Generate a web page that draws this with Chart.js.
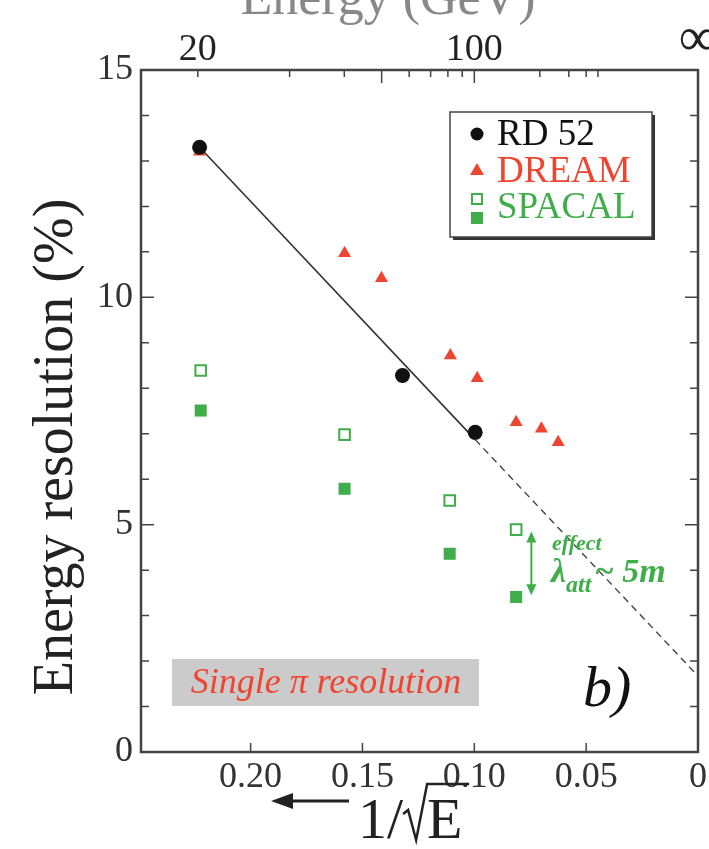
<!DOCTYPE html>
<html>
<head>
<meta charset="utf-8">
<script src="https://cdn.jsdelivr.net/npm/chart.js@4.4.0/dist/chart.umd.min.js"></script>
<style>
  html, body { margin: 0; padding: 0; background: #fff; }
  #wrap { width: 709px; height: 849px; }
</style>
</head>
<body>
<div id="wrap"><canvas id="c" width="709" height="849"></canvas></div>
<script>
// valeurs (x = 1/sqrt(E), y = résolution en %)
const rd52X = [0.2228, 0.1321, 0.0996];
const rd52Y = [13.3, 8.28, 7.03];
const dreamX = [0.2228, 0.158, 0.1415, 0.1107, 0.0987, 0.0813, 0.0700, 0.0625];
const dreamY = [13.2, 10.97, 10.42, 8.72, 8.22, 7.25, 7.11, 6.81];
const spacalX = [0.2223, 0.158, 0.111, 0.0813];
const spacalOpenY = [8.39, 6.98, 5.53, 4.89];
const spacalFullY = [7.51, 5.79, 4.36, 3.41];
const fitSolidX = [0.2228, 0.0996];
const fitSolidY = [13.3, 6.87];
const fitDashX = [0.0996, 0];
const fitDashY = [6.87, 1.67];

// graduations
const bottomTicks = [0.20, 0.15, 0.10, 0.05, 0];
const leftTicks = [0, 5, 10, 15];
const energyTicks = [20, 30, 40, 50, 60, 70, 80, 90, 100, 200, 300, 400, 500, Infinity];
const energyTickLabels = ['20', '', '', '', '', '', '', '', '100', '', '', '', '', '\u221E'];
const energyMajor = [50, 100];

const RED = '#ee4430';
const GREEN = '#3fae4a';
const AXIS = '#444';
const SERIF = "'Liberation Serif', 'Times New Roman', serif";

const pts = (xs, ys) => xs.map((x, i) => ({ x: x, y: ys[i] }));

// pas de marge pour les étiquettes qui débordent
const noOverhang = s => { s.paddingLeft = 0; s.paddingRight = 0; };

// cadre + graduations vers l'intérieur
const framePlugin = {
  id: 'frame',
  afterDatasetsDraw(chart) {
    const { ctx, chartArea: a, scales } = chart;
    ctx.save();
    ctx.strokeStyle = AXIS;
    ctx.lineWidth = 1.5;
    ctx.beginPath();
    for (let v = 0; v <= 15; v++) {
      const py = scales.y.getPixelForValue(v);
      const len = v % 5 === 0 ? 13 : 8;
      ctx.moveTo(a.left, py); ctx.lineTo(a.left + len, py);
      ctx.moveTo(a.right, py); ctx.lineTo(a.right - len, py);
    }
    bottomTicks.forEach(v => {
      const px = scales.x.getPixelForValue(v);
      ctx.moveTo(px, a.bottom); ctx.lineTo(px, a.bottom - 9);
    });
    energyTicks.forEach(e => {
      const px = scales.x2.getPixelForValue(1 / Math.sqrt(e));
      const len = energyMajor.includes(e) ? 13 : 7;
      ctx.moveTo(px, a.top); ctx.lineTo(px, a.top + len);
    });
    ctx.stroke();
    ctx.lineWidth = 2.5;
    ctx.strokeRect(a.left, a.top, a.right - a.left, a.bottom - a.top);
    ctx.restore();
  }
};

// légende, titres et annotations
const notesPlugin = {
  id: 'notes',
  afterDraw(chart) {
    const { ctx } = chart;
    ctx.save();

    // titres des axes
    ctx.fillStyle = '#888';
    ctx.font = '52px ' + SERIF;
    ctx.textAlign = 'center';
    ctx.textBaseline = 'alphabetic';
    ctx.fillText('Energy (GeV)', 388, 14);

    ctx.fillStyle = '#222';
    ctx.font = '56px ' + SERIF;
    ctx.save();
    ctx.translate(72, 447);
    ctx.rotate(-Math.PI / 2);
    ctx.fillText('Energy resolution (%)', 0, 0);
    ctx.restore();

    // ← 1/√E
    ctx.strokeStyle = '#222';
    ctx.lineWidth = 3;
    ctx.beginPath();
    ctx.moveTo(349, 801); ctx.lineTo(285, 801);
    ctx.stroke();
    ctx.beginPath();
    ctx.moveTo(271, 801); ctx.lineTo(293, 793); ctx.lineTo(293, 809); ctx.closePath();
    ctx.fill();
    ctx.font = '58px ' + SERIF;
    ctx.textAlign = 'left';
    ctx.fillText('1/', 358, 838);
    const w1 = ctx.measureText('1/').width;
    const sx = 358 + w1;
    ctx.lineWidth = 2.5;
    ctx.beginPath();
    ctx.moveTo(sx, 814); ctx.lineTo(sx + 5, 810); ctx.lineTo(sx + 13, 840);
    ctx.lineTo(sx + 24, 784); ctx.lineTo(sx + 66, 784);
    ctx.stroke();
    ctx.fillText('E', sx + 24, 838);

    // légende
    const bx = 450, by = 112, bw = 202, bh = 125;
    ctx.fillStyle = '#333';
    ctx.fillRect(bx + 3, by + 3, bw, bh);
    ctx.fillStyle = '#fff';
    ctx.fillRect(bx, by, bw, bh);
    ctx.strokeStyle = '#444';
    ctx.lineWidth = 1.5;
    ctx.strokeRect(bx, by, bw, bh);

    ctx.font = '37px ' + SERIF;
    ctx.fillStyle = '#111';
    ctx.beginPath(); ctx.arc(477, 134, 6.5, 0, Math.PI * 2); ctx.fill();
    ctx.fillText('RD 52', 497, 145);

    ctx.fillStyle = RED;
    ctx.beginPath();
    ctx.moveTo(477, 163); ctx.lineTo(484, 175); ctx.lineTo(470, 175); ctx.closePath();
    ctx.fill();
    ctx.fillText('DREAM', 497, 182);

    ctx.fillStyle = GREEN;
    ctx.strokeStyle = GREEN;
    ctx.lineWidth = 2;
    ctx.strokeRect(472, 194, 10, 10);
    ctx.fillRect(471, 212, 12, 12);
    ctx.fillText('SPACAL', 497, 218);

    // Single π resolution
    ctx.fillStyle = '#cbcbcb';
    ctx.fillRect(172, 659, 307, 47);
    ctx.fillStyle = RED;
    ctx.font = 'italic 36px ' + SERIF;
    ctx.textAlign = 'center';
    ctx.fillText('Single \u03C0 resolution', 326, 693);

    // b)
    ctx.fillStyle = '#111';
    ctx.font = 'italic 58px ' + SERIF;
    ctx.textAlign = 'left';
    ctx.fillText('b)', 583, 706);

    // flèche verte λatt
    const ax = chart.scales.x.getPixelForValue(0.0745);
    const yTop = chart.scales.y.getPixelForValue(4.85);
    const yBot = chart.scales.y.getPixelForValue(3.45);
    ctx.strokeStyle = GREEN;
    ctx.fillStyle = GREEN;
    ctx.lineWidth = 2;
    ctx.beginPath(); ctx.moveTo(ax, yTop + 8); ctx.lineTo(ax, yBot - 8); ctx.stroke();
    ctx.beginPath();
    ctx.moveTo(ax, yTop); ctx.lineTo(ax - 5, yTop + 11); ctx.lineTo(ax + 5, yTop + 11); ctx.closePath();
    ctx.moveTo(ax, yBot); ctx.lineTo(ax - 5, yBot - 11); ctx.lineTo(ax + 5, yBot - 11); ctx.closePath();
    ctx.fill();

    ctx.font = 'italic bold 22px ' + SERIF;
    ctx.fillText('effect', 552, 550);
    ctx.font = 'italic bold 34px ' + SERIF;
    ctx.fillText('\u03BB', 551, 582);
    let tx = 551 + ctx.measureText('\u03BB').width;
    ctx.font = 'italic bold 24px ' + SERIF;
    ctx.fillText('att', tx, 592);
    tx += ctx.measureText('att').width + 3;
    ctx.font = 'italic bold 34px ' + SERIF;
    ctx.fillText('~ 5m', tx, 582);

    ctx.restore();
  }
};

new Chart(document.getElementById('c'), {
  type: 'scatter',
  data: {
    datasets: [
      {
        label: 'RD 52',
        data: pts(rd52X, rd52Y),
        pointStyle: 'circle',
        pointRadius: 7.5,
        backgroundColor: '#111',
        borderWidth: 0
      },
      {
        label: 'DREAM',
        data: pts(dreamX, dreamY),
        pointStyle: 'triangle',
        pointRadius: 7.5,
        backgroundColor: RED,
        borderWidth: 0
      },
      {
        label: 'fit',
        data: pts(fitSolidX, fitSolidY),
        showLine: true,
        pointRadius: 0,
        borderColor: '#333',
        borderWidth: 1.6
      },
      {
        label: 'fit extrapolation',
        data: pts(fitDashX, fitDashY),
        showLine: true,
        pointRadius: 0,
        borderColor: '#444',
        borderWidth: 1.4,
        borderDash: [7, 5]
      },
      {
        label: 'SPACAL',
        data: pts(spacalX, spacalOpenY),
        pointStyle: 'rect',
        pointRadius: 7.5,
        backgroundColor: '#fff',
        borderColor: GREEN,
        borderWidth: 2
      },
      {
        label: 'SPACAL (full)',
        data: pts(spacalX, spacalFullY),
        pointStyle: 'rect',
        pointRadius: 8.5,
        backgroundColor: GREEN,
        borderWidth: 0
      }
    ]
  },
  options: {
    responsive: false,
    animation: false,
    devicePixelRatio: 1,
    layout: { padding: 0 },
    plugins: {
      legend: { display: false },
      tooltip: { enabled: false }
    },
    scales: {
      x: {
        type: 'linear',
        position: 'bottom',
        reverse: true,
        min: 0,
        max: 0.249,
        grid: { display: false, drawTicks: false },
        border: { display: false },
        afterBuildTicks: s => { s.ticks = bottomTicks.map(v => ({ value: v })); },
        afterFit: s => { s.height = 97; noOverhang(s); },
        ticks: {
          autoSkip: false,
          maxRotation: 0,
          padding: 4,
          color: '#333',
          font: { family: SERIF, size: 36 },
          callback: v => (v === 0 ? '0' : v.toFixed(2))
        }
      },
      x2: {
        type: 'linear',
        position: 'top',
        reverse: true,
        min: 0,
        max: 0.249,
        grid: { display: false, drawTicks: false },
        border: { display: false },
        afterBuildTicks: s => { s.ticks = energyTicks.map(e => ({ value: 1 / Math.sqrt(e) })); },
        afterFit: s => { s.height = 70; noOverhang(s); },
        ticks: {
          autoSkip: false,
          maxRotation: 0,
          padding: -3,
          color: '#222',
          font: c => ({ family: SERIF, size: c.index === energyTicks.length - 1 ? 54 : 38 }),
          callback: (v, i) => energyTickLabels[i]
        }
      },
      y: {
        type: 'linear',
        position: 'left',
        min: 0,
        max: 15,
        grid: { display: false, drawTicks: false },
        border: { display: false },
        afterBuildTicks: s => { s.ticks = leftTicks.map(v => ({ value: v })); },
        afterFit: s => { s.width = 141; },
        ticks: {
          padding: 8,
          color: '#333',
          font: { family: SERIF, size: 36 }
        }
      },
      y2: {
        type: 'linear',
        position: 'right',
        min: 0,
        max: 15,
        grid: { display: false, drawTicks: false },
        border: { display: false },
        ticks: { display: false },
        afterFit: s => { s.width = 11; }
      }
    }
  },
  plugins: [framePlugin, notesPlugin]
});
</script>
</body>
</html>
